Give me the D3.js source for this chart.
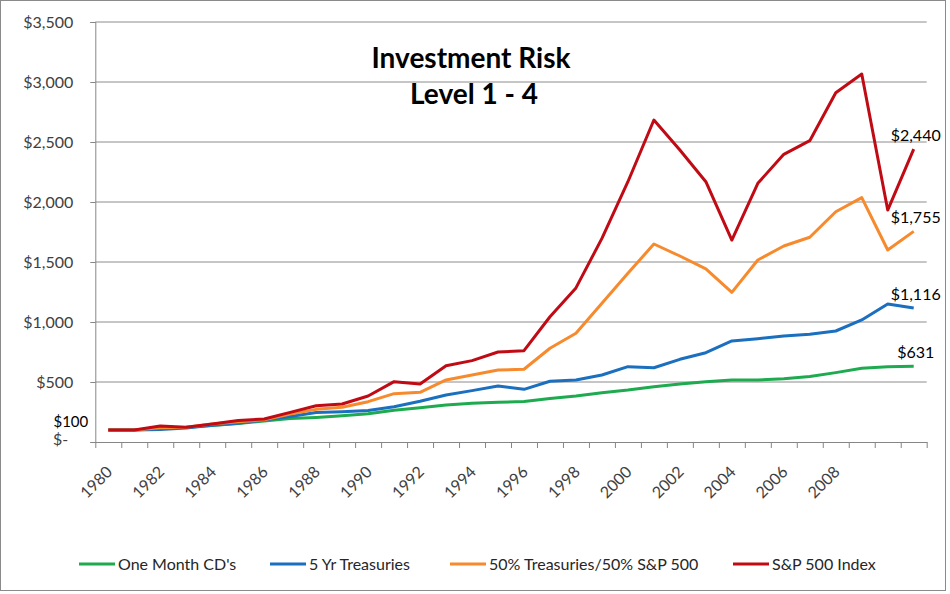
<!DOCTYPE html>
<html>
<head>
<meta charset="utf-8">
<script src="https://cdn.jsdelivr.net/npm/d3@7"></script>
<style>
  body { margin: 0; background: #fff; }
  svg text { font-family: Lato, "Open Sans", sans-serif; }
</style>
</head>
<body>
<svg id="chart" width="950" height="594"></svg>
<script>
// categories (one per year) and the years that get a label
const categories = ["1980","1981","1982","1983","1984","1985","1986","1987","1988","1989",
  "1990","1991","1992","1993","1994","1995","1996","1997","1998","1999",
  "2000","2001","2002","2003","2004","2005","2006","2007","2008","2009","2010","2011"];
const xTickLabels = ["1980","1982","1984","1986","1988","1990","1992","1994","1996","1998",
  "2000","2002","2004","2006","2008"];
const yTicks = [0, 500, 1000, 1500, 2000, 2500, 3000, 3500];

// series values
const oneMonthCDs = [100, 100, 112, 122, 138, 155, 175, 195, 205, 218, 235, 265, 286, 308, 322, 331,
  338, 362, 383, 410, 433, 461, 483, 503, 517, 517, 527, 546, 578, 614, 628, 631];
const fiveYrTreasuries = [100, 100, 104, 117, 139, 156, 183, 212, 245, 252, 263, 294, 339, 392, 428, 467,
  439, 506, 517, 558, 628, 619, 689, 744, 842, 861, 883, 897, 925, 1017, 1150, 1116];
const mixed5050 = [100, 100, 119, 122, 150, 169, 185, 233, 272, 289, 336, 403, 414, 517, 558, 600,
  606, 781, 906, 1156, 1406, 1650, 1550, 1442, 1247, 1517, 1633, 1706, 1919, 2036, 1600, 1755];
const sp500 = [100, 100, 133, 122, 150, 180, 192, 247, 302, 317, 383, 503, 483, 636, 678, 750,
  761, 1044, 1284, 1697, 2169, 2683, 2433, 2169, 1683, 2156, 2397, 2511, 2911, 3067, 1933, 2440];

const seriesNames = ["One Month CD's", "5 Yr Treasuries", "50% Treasuries/50% S&P 500", "S&P 500 Index"];
const seriesColors = ["#1eaa4f", "#1b6fbf", "#f68a2d", "#c00a14"];
const series = [oneMonthCDs, fiveYrTreasuries, mixed5050, sp500];

const svg = d3.select("#chart");

// outer frame
svg.append("rect")
    .attr("x", 0.5).attr("y", 0.5)
    .attr("width", 945).attr("height", 590)
    .attr("fill", "#fff")
    .attr("stroke", "#8a8a8a");

const plotLeft = 95.3, plotRight = 926.7, plotTop = 22, plotBottom = 442;

// boundaries scale (ticks sit between categories) and band scale for points
const xEdge = d3.scaleLinear().domain([0, categories.length]).range([plotLeft, plotRight]);
const x = d3.scaleBand().domain(categories).range([plotLeft, plotRight]);
const y = d3.scaleLinear().domain([0, 3500]).range([plotBottom, plotTop]);

// gridlines
svg.append("g")
    .selectAll("line")
    .data(yTicks.filter(d => d > 0))
    .enter()
    .append("line")
    .attr("x1", plotLeft).attr("x2", plotRight)
    .attr("y1", d => y(d)).attr("y2", d => y(d))
    .attr("stroke", "#8c8c8c")
    .attr("stroke-width", 1);

// y axis
const yAxis = svg.append("g")
    .attr("transform", `translate(${plotLeft},0)`)
    .call(d3.axisLeft(y)
        .tickValues(yTicks)
        .tickSize(5)
        .tickPadding(17)
        .tickFormat(d => d === 0 ? "$-" : "$" + d3.format(",")(d)));
yAxis.select(".domain").attr("stroke", "#868686");
yAxis.selectAll(".tick line").attr("stroke", "#868686");
yAxis.selectAll(".tick text")
    .attr("fill", "#404040")
    .style("font-size", "16px")
    .style("font-family", "Lato, sans-serif");
yAxis.selectAll(".tick text").filter(d => d === 0)
    .attr("dx", -5)
    .attr("y", -3);

// x axis: tick marks on the boundaries
const xAxis = svg.append("g")
    .attr("transform", `translate(0,${plotBottom})`)
    .call(d3.axisBottom(xEdge)
        .tickValues(d3.range(categories.length + 1))
        .tickSize(6)
        .tickSizeOuter(0)
        .tickFormat(""));
xAxis.select(".domain").attr("stroke", "#868686");
xAxis.selectAll(".tick line").attr("stroke", "#868686");

// x labels, rotated
svg.append("g")
    .selectAll("text")
    .data(xTickLabels)
    .enter()
    .append("text")
    .attr("transform", d => `translate(${x(d) + x.bandwidth() / 2 + 5},${plotBottom + 31}) rotate(-45)`)
    .attr("text-anchor", "end")
    .attr("fill", "#404040")
    .style("font-size", "16px")
    .text(d => d);

// lines
const line = d3.line()
    .x((d, i) => x(categories[i]) + x.bandwidth() / 2)
    .y(d => y(d));

series.forEach((s, k) => {
    svg.append("path")
        .datum(s)
        .attr("d", line)
        .attr("fill", "none")
        .attr("stroke", seriesColors[k])
        .attr("stroke-width", 3)
        .attr("stroke-linejoin", "round");
});

// end-value labels above the last point
var last = categories.length - 1;
series.forEach((s, k) => {
    svg.append("text")
        .attr("x", x(categories[last]) + x.bandwidth() / 2 + 2)
        .attr("y", y(s[last]) - 8)
        .attr("text-anchor", "middle")
        .attr("fill", "#000")
        .style("font-size", "16px")
        .text("$" + d3.format(",")(s[last]));
});

// starting value label
svg.append("text")
    .attr("x", x(categories[0]) + x.bandwidth() / 2 - 20)
    .attr("y", y(sp500[0]) - 3)
    .attr("text-anchor", "end")
    .attr("fill", "#000")
    .style("font-size", "15px")
    .text("$" + d3.format(",")(sp500[0]));

// title
const title = svg.append("text")
    .attr("x", 471)
    .attr("text-anchor", "middle")
    .attr("fill", "#000")
    .style("font-size", "28px")
    .style("font-weight", "bold");
title.append("tspan").attr("x", 471).attr("y", 68).text("Investment Risk");
title.append("tspan").attr("x", 474).attr("y", 104).text("Level 1 - 4");

// legend
var legendX = [79, 270, 450, 733];
const legend = svg.append("g");
seriesNames.forEach((name, k) => {
    legend.append("line")
        .attr("x1", legendX[k]).attr("x2", legendX[k] + 36)
        .attr("y1", 564).attr("y2", 564)
        .attr("stroke", seriesColors[k])
        .attr("stroke-width", 3);
    legend.append("text")
        .attr("x", legendX[k] + 39)
        .attr("y", 569.5)
        .attr("fill", "#262626")
        .style("font-size", "16px")
        .text(name);
});
</script>
</body>
</html>
